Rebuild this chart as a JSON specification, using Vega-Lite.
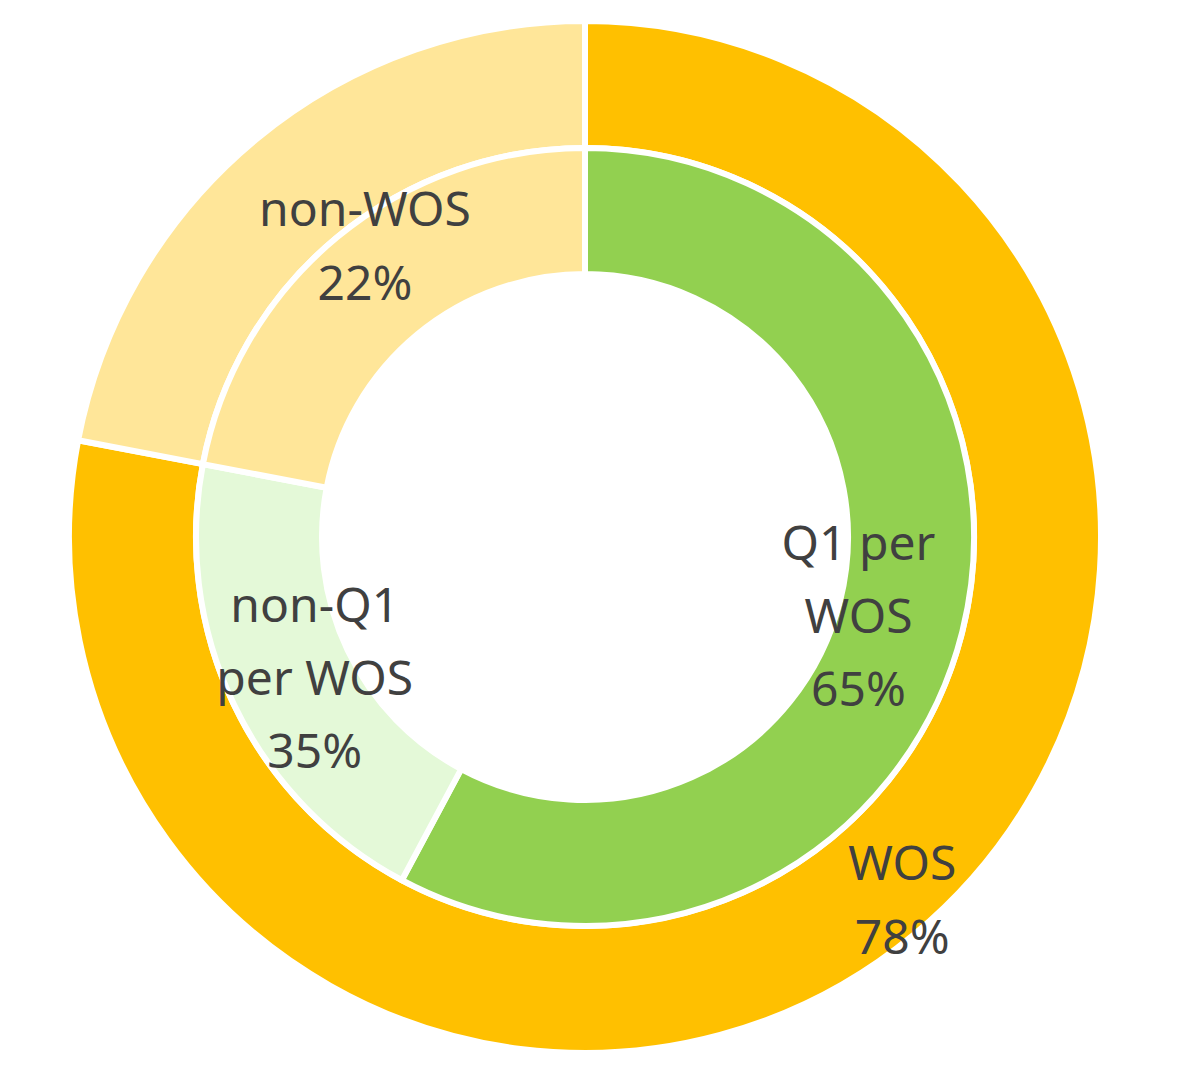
{
  "$schema": "https://vega.github.io/schema/vega-lite/v6.json",
  "autosize": {"type": "fit", "contains": "padding"},
  "width": 1177,
  "height": 1076,
  "padding": {"left": 0, "right": 7, "top": 0, "bottom": 2},
  "background": "white",
  "config": {"view": {"stroke": null}, "text": {"lineBreak": "\n"}},
  "datasets": {
    "outer": [
      {"cat": "WOS", "value": 78, "ord": 1, "label": "WOS\n78%"},
      {"cat": "non-WOS", "value": 22, "ord": 2, "label": ""}
    ],
    "inner": [
      {"cat": "Q1 per WOS", "value": 57.8, "ord": 1, "label": "Q1 per\nWOS\n65%"},
      {"cat": "non-Q1 per WOS", "value": 20.2, "ord": 2, "label": "non-Q1\nper WOS\n35%"},
      {"cat": "non-WOS", "value": 22, "ord": 3, "label": "non-WOS\n22%"}
    ]
  },
  "encoding": {
    "theta": {"field": "value", "type": "quantitative", "stack": true, "scale": {"domain": [0, 100]}},
    "order": {"field": "ord", "type": "quantitative"},
    "color": {
      "field": "cat",
      "type": "nominal",
      "scale": {
        "domain": ["WOS", "non-WOS", "Q1 per WOS", "non-Q1 per WOS"],
        "range": ["#FFC000", "#FFE699", "#92D050", "#E4F9D8"]
      },
      "legend": null
    }
  },
  "layer": [
    {
      "data": {"name": "outer"},
      "mark": {"type": "arc", "radius": 516, "radius2": 389, "stroke": "white", "strokeWidth": 6}
    },
    {
      "data": {"name": "inner"},
      "mark": {"type": "arc", "radius": 389, "radius2": 263, "stroke": "white", "strokeWidth": 6}
    },
    {
      "data": {"name": "outer"},
      "mark": {"type": "text", "radius": 482, "dx": 10, "dy": -42, "fontSize": 48, "lineHeight": 74, "lineBreak": "\n", "font": "Noto Sans", "color": "#404040", "baseline": "middle"},
      "encoding": {"text": {"field": "label"}, "color": {"value": "#404040"}}
    },
    {
      "data": {"name": "inner"},
      "mark": {"type": "text", "radius": 284, "dx": -2, "dy": -60, "fontSize": 48, "lineHeight": 73, "lineBreak": "\n", "font": "Noto Sans", "color": "#404040", "baseline": "middle"},
      "encoding": {"text": {"condition": {"test": "datum.cat === 'Q1 per WOS'", "field": "label"}, "value": ""}, "color": {"value": "#404040"}}
    },
    {
      "data": {"name": "inner"},
      "mark": {"type": "text", "radius": 304, "dx": 4, "dy": -60, "fontSize": 48, "lineHeight": 73, "lineBreak": "\n", "font": "Noto Sans", "color": "#404040", "baseline": "middle"},
      "encoding": {"text": {"condition": {"test": "datum.cat === 'non-Q1 per WOS'", "field": "label"}, "value": ""}, "color": {"value": "#404040"}}
    },
    {
      "data": {"name": "inner"},
      "mark": {"type": "text", "radius": 364, "dx": 12, "dy": -45, "fontSize": 48, "lineHeight": 74, "lineBreak": "\n", "font": "Noto Sans", "color": "#404040", "baseline": "middle"},
      "encoding": {"text": {"condition": {"test": "datum.cat === 'non-WOS'", "field": "label"}, "value": ""}, "color": {"value": "#404040"}}
    }
  ]
}
